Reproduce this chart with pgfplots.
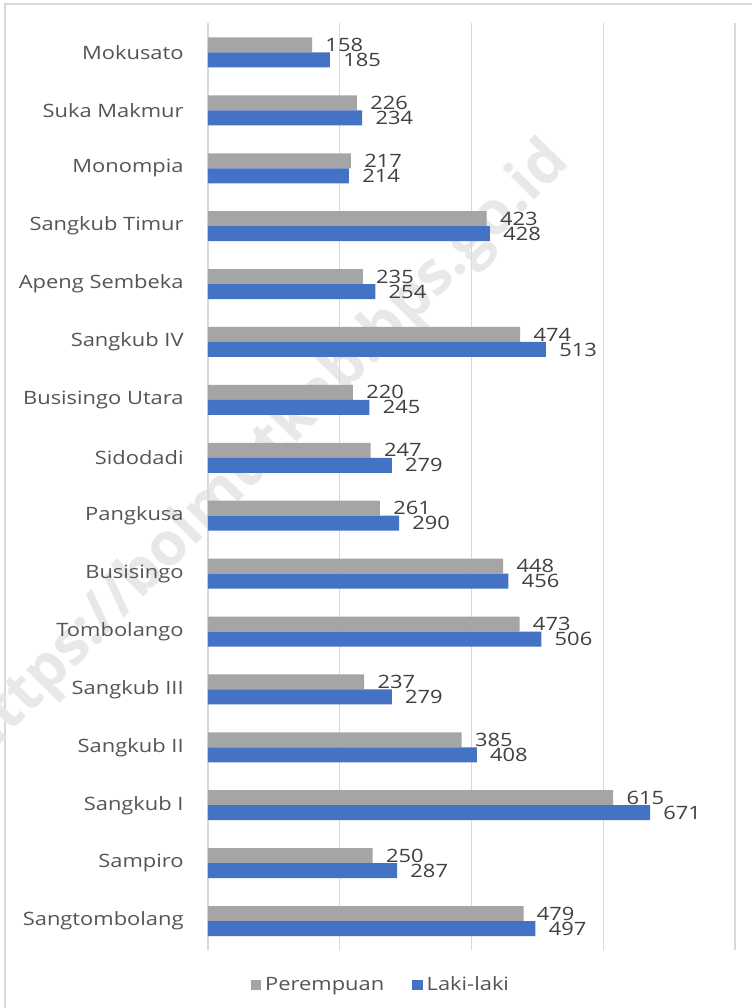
\documentclass[border=0pt]{standalone}
\usepackage{fontspec}
\setmainfont{Open Sans}[FakeStretch=1.19]
\newfontfamily\wmfont{Open Sans Bold}
\usepackage{pgfplots}
\pgfplotsset{compat=1.18}
\definecolor{gbar}{HTML}{A5A5A5}
\definecolor{bbar}{HTML}{4472C4}
\definecolor{txt}{HTML}{555555}
\definecolor{numc}{HTML}{404040}
\definecolor{gridc}{HTML}{D9D9D9}
\definecolor{wmc}{HTML}{E8E8E8}
\newcommand{\lblfont}{\fontsize{9.2}{10}\selectfont}
\begin{document}
\begin{tikzpicture}
\path[use as bounding box] (0,0) rectangle (376pt,504pt);
\fill[white] (0,0) rectangle (376pt,504pt);
\draw[gridc, line width=0.6pt] (2.5pt,0) -- (2.5pt,502pt) -- (376pt,502pt);
\node[rotate=45.5, anchor=east, text=wmc, font=\wmfont\fontsize{30}{34}\selectfont, inner sep=0pt] at (280pt,428pt) {https://bolmutkab.bps.go.id};
\begin{axis}[
  at={(104pt,29pt)}, anchor=south west,
  scale only axis, width=263.5pt, height=463.25pt,
  xbar, bar width=7.5pt,
  xmin=0, xmax=800, ymin=-0.5, ymax=15.5,
  xtick={0,200,...,800}, xticklabels={},
  xmajorgrids, major grid style={gridc, line width=0.6pt},
  axis line style={draw=none},
  major tick length=0pt,
  /pgf/number format/assume math mode=true,
  ytick={0,...,15},
  yticklabels={Sangtombolang, Sampiro, Sangkub I, Sangkub II, Sangkub III, Tombolango, Busisingo, Pangkusa, Sidodadi, Busisingo Utara, Sangkub IV, Apeng Sembeka, Sangkub Timur, Monompia, Suka Makmur, Mokusato},
  yticklabel style={font=\lblfont, text=txt, inner sep=0pt, xshift=-12pt},
  point meta=x,
  nodes near coords,
  nodes near coords style={font=\lblfont, text=numc, anchor=west, inner sep=0pt, xshift=6.5pt},
  legend image code/.code={\fill[#1] (0pt,-2.6pt) rectangle (5.2pt,2.6pt);},
  legend style={at={(0.33,-0.038)}, anchor=center, draw=none, fill=none, font=\lblfont, text=txt, legend columns=2, /tikz/every even column/.append style={column sep=12pt}},
]
\addplot[fill=gbar, draw=none, bar shift=3.75pt] coordinates {
(479,0) (250,1) (615,2) (385,3) (237,4) (473,5) (448,6) (261,7) (247,8) (220,9) (474,10) (235,11) (423,12) (217,13) (226,14) (158,15)};
\addplot[fill=bbar, draw=none, bar shift=-3.75pt] coordinates {
(497,0) (287,1) (671,2) (408,3) (279,4) (506,5) (456,6) (290,7) (279,8) (245,9) (513,10) (254,11) (428,12) (214,13) (234,14) (185,15)};
\legend{Perempuan, Laki-laki}
\end{axis}
\end{tikzpicture}
\end{document}
